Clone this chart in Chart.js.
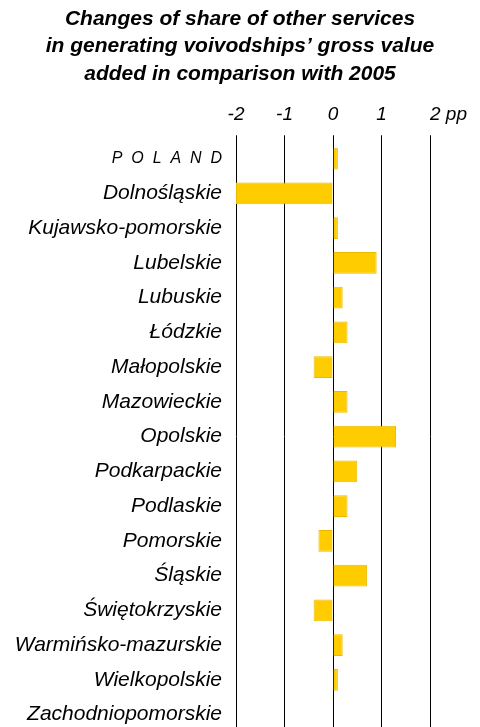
<!DOCTYPE html>
<html>
<head>
<meta charset="utf-8">
<script src="https://cdn.jsdelivr.net/npm/chart.js@4"></script>
<style>
  html, body { margin: 0; padding: 0; background: #fff; }
  #wrap { width: 480px; height: 727px; overflow: hidden; }
  #box { width: 480px; height: 732px; position: relative; }
</style>
</head>
<body>
<div id="wrap"><div id="box"><canvas id="chart"></canvas></div></div>
<script>
// voivodships, first row is the country total
const regions = [
  'P  O  L  A  N  D', 'Dolnośląskie', 'Kujawsko-pomorskie', 'Lubelskie', 'Lubuskie',
  'Łódzkie', 'Małopolskie', 'Mazowieckie', 'Opolskie', 'Podkarpackie',
  'Podlaskie', 'Pomorskie', 'Śląskie', 'Świętokrzyskie', 'Warmińsko-mazurskie',
  'Wielkopolskie', 'Zachodniopomorskie'
]
// change of share in pp vs 2005
const change = [0.1, -2.0, 0.1, 0.9, 0.2, 0.3, -0.4, 0.3, 1.3, 0.5, 0.3, -0.3, 0.7, -0.4, 0.2, 0.1, 0.0]
const xTicks = [-2, -1, 0, 1, 2]
const xTickText = ['-2', '-1', '0', '1', '       2 pp']
const titleLines = [
  'Changes of share of other services',
  'in generating voivodships’ gross value',
  'added in comparison with 2005'
]

const FONT = '"Liberation Sans", Arial, sans-serif'

new Chart(document.getElementById('chart'), {
  type: 'bar',
  data: {
    labels: regions,
    datasets: [{
      data: change,
      backgroundColor: '#FFCC00',
      borderColor: '#E9BA00',
      borderWidth: 1,
      barPercentage: 0.63,
      categoryPercentage: 1
    }]
  },
  options: {
    indexAxis: 'y',
    responsive: true,
    maintainAspectRatio: false,
    animation: false,
    layout: { padding: 0 },
    plugins: {
      legend: { display: false },
      tooltip: { enabled: false },
      title: {
        display: true,
        text: titleLines,
        color: '#000',
        font: { family: FONT, size: 21, weight: 'bold', style: 'italic', lineHeight: 1.29 },
        padding: { top: 6, bottom: 4 }
      }
    },
    scales: {
      x: {
        position: 'top',
        min: -2,
        max: 2,
        afterBuildTicks: (scale) => { scale.ticks = xTicks.map(v => ({ value: v })) },
        afterFit: (scale) => {
          scale.height = 50
          scale.paddingRight = 50   // room for the "2 pp" label
        },
        border: { display: false },
        grid: { color: '#000', lineWidth: 1, drawTicks: true, tickLength: 6, tickColor: '#000' },
        ticks: {
          color: '#000',
          padding: 9,
          maxRotation: 0,
          autoSkip: false,
          font: { family: FONT, size: 19, style: 'italic' },
          callback: (v) => xTickText[xTicks.indexOf(v)]
        }
      },
      y: {
        afterFit: (scale) => {
          scale.width = 236
          scale.paddingTop = 0
          scale.paddingBottom = 0
        },
        border: { display: false },
        grid: { display: false, drawTicks: false },
        ticks: {
          color: '#000',
          padding: 14,
          autoSkip: false,
          font: (ctx) => ctx.index === 0
            ? { family: FONT, size: 16, style: 'italic' }
            : { family: FONT, size: 21, style: 'italic' }
        }
      }
    }
  }
})
</script>
</body>
</html>
